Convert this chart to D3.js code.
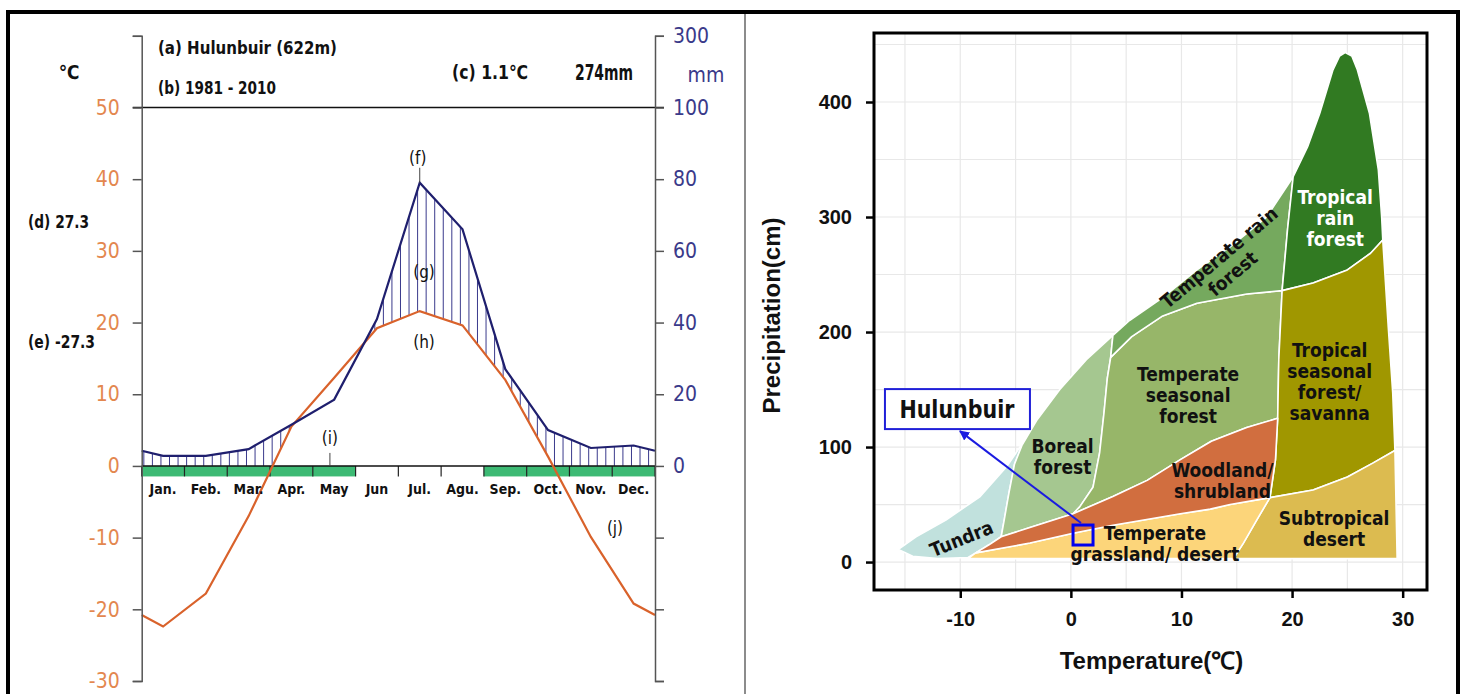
<!DOCTYPE html>
<html lang="en">
<head>
<meta charset="UTF-8">
<title>Hulunbuir climate diagram and Whittaker biomes</title>
<script src="https://d3js.org/d3.v7.min.js"></script>
<style>
  body { margin: 0; background: #fff; }
  svg { display: block; }
</style>
</head>
<body>
<svg id="chart" width="1463" height="694"></svg>
<script>
const NARROW = "'Liberation Sans Narrow', 'Arial Narrow', 'DejaVu Sans Condensed', sans-serif";
const SANS = "'Liberation Sans', Arial, sans-serif";

// ---- climate diagram data (Hulunbuir, 1981-2010) ----
const months = ["Jan.", "Feb.", "Mar.", "Apr.", "May", "Jun", "Jul.", "Agu.", "Sep.", "Oct.", "Nov.", "Dec."];
const temperature = [-22.4, -17.8, -7.0, 5.5, 12.3, 19.2, 21.6, 19.6, 12.0, 1.3, -9.9, -19.2];
const precipitation = [2.8, 2.8, 4.7, 11.5, 18.5, 41, 79, 66, 27, 10, 5, 5.7];
const frostMonths = [1, 1, 1, 1, 1, 0, 0, 0, 1, 1, 1, 1];
const tempTicks = [60, 50, 40, 30, 20, 10, 0, -10, -20, -30];
const precTicks = [300, 100, 80, 60, 40, 20, 0, -20, -40, -60];

// ---- Whittaker biome data (temperature C, precipitation cm) ----
const biomeNames = ["Tundra", "Boreal forest", "Temperate seasonal forest", "Temperate rain forest",
  "Tropical rain forest", "Tropical seasonal forest/savanna", "Subtropical desert",
  "Temperate grassland/desert", "Woodland/shrubland"];
const biomeColors = ["#C1E1DD", "#A5C790", "#97B669", "#75A95E", "#317A22", "#A09700", "#DCBB50", "#FCD57A", "#D16E3F"];
const tundra = [[-15.6, 11], [-14, 22], [-11.3, 36.5], [-8.2, 57], [-5.8, 83], [-4.6, 100], [-4.4, 102],
  [-5.1, 85], [-5.6, 60], [-6.0, 38], [-6.3, 22], [-7.4, 15], [-8.6, 8], [-9.3, 4], [-12, 3], [-14.3, 5]];
const boreal = [[-6.3, 22], [-6.0, 38], [-5.6, 60], [-5.1, 85], [-4.4, 102], [-3.1, 123], [-1, 150], [1.4, 176],
  [3.8, 197], [3.6, 178], [3.3, 160], [3.0, 130], [2.6, 95], [2.0, 65], [0.8, 48], [0.2, 42], [-3.7, 30]];
const tempSeasonal = [[3.6, 178], [5.5, 196], [8.3, 214], [11.4, 225], [15.9, 233], [19.1, 236], [18.8, 176],
  [18.7, 125], [15.9, 117], [12.7, 105], [9.9, 89], [6.9, 71], [3.8, 57], [0.2, 42], [0.8, 48], [2.0, 65],
  [2.6, 95], [3.0, 130], [3.3, 160]];
const tempRain = [[3.6, 178], [3.8, 197], [5.3, 210], [8.3, 230], [11.4, 254], [14.4, 274], [17.7, 300],
  [20.1, 335], [19.6, 290], [19.1, 236], [15.9, 233], [11.4, 225], [8.3, 214], [5.5, 196]];
const tropRain = [[19.1, 236], [19.6, 290], [20.1, 335], [21.4, 361], [22.5, 390], [23.7, 428], [24.3, 440],
  [24.8, 443], [25.4, 440], [25.9, 428], [27, 390], [27.8, 341], [28.1, 300], [28.2, 280], [27.1, 268.5],
  [25, 254], [21.9, 242.6]];
const tropSeasonal = [[19.1, 236], [21.9, 242.6], [25, 254], [27.1, 268.5], [28.2, 280], [28.7, 204],
  [29.1, 147], [29.3, 97], [27.3, 86], [25, 74], [21.9, 62.6], [18.0, 56], [18.5, 89], [18.7, 125], [18.8, 176]];
const subDesert = [[18.0, 56], [21.9, 62.6], [25, 74], [27.3, 86], [29.3, 97], [29.5, 3], [14.7, 3],
  [15.6, 16.5], [16.8, 36.5]];
const grassland = [[-9.3, 3], [-8.6, 8], [-3.7, 16.5], [0.2, 25], [3.8, 32], [9.9, 42], [12.6, 46], [14.4, 50],
  [18.0, 56], [16.8, 36.5], [15.6, 16.5], [14.7, 3]];
const woodland = [[-8.6, 8], [-7.4, 15], [-6.3, 22], [-3.7, 30], [0.2, 42], [3.8, 57], [6.9, 71], [9.9, 89],
  [12.7, 105], [15.9, 117], [18.7, 125], [18.5, 89], [18.0, 56], [14.4, 50], [12.6, 46], [9.9, 42], [3.8, 32],
  [0.2, 25], [-3.7, 16.5]];
const biomePolys = [tundra, boreal, tempSeasonal, tempRain, tropRain, tropSeasonal, subDesert, grassland, woodland];

const biomeLabels = [
  {lines: ["Tropical", "rain", "forest"], t: 23.9, p: 299, rot: 0, fill: "#fff"},
  {lines: ["Temperate rain", "forest"], t: 14.0, p: 258, rot: -40, fill: "#111"},
  {lines: ["Temperate", "seasonal", "forest"], t: 10.6, p: 145, rot: 0, fill: "#111"},
  {lines: ["Tropical", "seasonal", "forest/", "savanna"], t: 23.4, p: 157, rot: 0, fill: "#111"},
  {lines: ["Boreal", "forest"], t: -0.75, p: 92, rot: 0, fill: "#111"},
  {lines: ["Woodland/", "shrubland"], t: 13.7, p: 71, rot: 0, fill: "#111"},
  {lines: ["Subtropical", "desert"], t: 23.8, p: 29, rot: 0, fill: "#111"},
  {lines: ["Temperate", "grassland/ desert"], t: 7.6, p: 16.5, rot: 0, fill: "#111"},
  {lines: ["Tundra"], t: -9.9, p: 20.6, rot: -22, fill: "#111"}
];
const site = {name: "Hulunbuir", t: 1.1, p: 23.5, labelT: -10.3, labelP: 133};
const xTicksB = [-10, 0, 10, 20, 30];
const yTicksB = [0, 100, 200, 300, 400];

const svg = d3.select("#chart");

// outer frame and divider
svg.append("rect").attr("x", 8).attr("y", 12).attr("width", 1450).attr("height", 700)
  .attr("fill", "none").attr("stroke", "#000").attr("stroke-width", 4);
svg.append("line").attr("x1", 745).attr("x2", 745).attr("y1", 14).attr("y2", 694)
  .attr("stroke", "#666").attr("stroke-width", 1.5);

// ================= left: climate diagram =================
const L = svg.append("g");
const xM = d3.scaleLinear().domain([0, 12]).range([141.7, 655]);
const yT = d3.scaleLinear().domain([-30, 60]).range([681, 35.8]);
const yP = d3.scaleLinear().domain([-60, 100, 300]).range([yT(-30), yT(50), yT(60)]);

const edgeT = (temperature[11] + temperature[0]) / 2;
const edgeP = (precipitation[11] + precipitation[0]) / 2;
const tSeries = [[0, edgeT], ...temperature.map((v, i) => [i + 0.5, v]), [12, edgeT]];
const pSeries = [[0, edgeP], ...precipitation.map((v, i) => [i + 0.5, v]), [12, edgeP]];

function interp(series, x) {
  for (let i = 1; i < series.length; i++) {
    if (x <= series[i][0]) {
      const a = series[i - 1], b = series[i];
      return a[1] + (b[1] - a[1]) * (x - a[0]) / (b[0] - a[0]);
    }
  }
  return series[series.length - 1][1];
}

// humid-period hatching
const hatch = d3.range(0.05, 12, 0.2).map(x => {
  const t = interp(tSeries, x), p = interp(pSeries, x);
  return {x, y1: yP(p), y2: yT(Math.max(t, 0))};
}).filter(d => d.y1 < d.y2 - 0.5);
L.append("g").selectAll("line").data(hatch).join("line")
  .attr("x1", d => xM(d.x)).attr("x2", d => xM(d.x))
  .attr("y1", d => d.y1).attr("y2", d => d.y2)
  .attr("stroke", "#3a3a8c").attr("stroke-width", 1);

// frost bars and month separators
L.append("g").selectAll("rect").data(frostMonths.map((f, i) => ({f, i})).filter(d => d.f))
  .join("rect")
  .attr("x", d => xM(d.i)).attr("width", d => xM(d.i + 1) - xM(d.i))
  .attr("y", yT(0)).attr("height", 10.5)
  .attr("fill", "#3dba74");
L.append("g").selectAll("line").data(d3.range(13)).join("line")
  .attr("x1", d => xM(d)).attr("x2", d => xM(d))
  .attr("y1", yT(0)).attr("y2", yT(0) + 10.5)
  .attr("stroke", "#222").attr("stroke-width", 1.2);

// reference lines
L.append("line").attr("x1", xM(0) - 9).attr("x2", xM(12) + 9).attr("y1", yT(50)).attr("y2", yT(50))
  .attr("stroke", "#111").attr("stroke-width", 1.5);
L.append("line").attr("x1", xM(0)).attr("x2", xM(12)).attr("y1", yT(0)).attr("y2", yT(0))
  .attr("stroke", "#111").attr("stroke-width", 1.5);

// curves
L.append("path").datum(tSeries)
  .attr("d", d3.line().x(d => xM(d[0])).y(d => yT(d[1])))
  .attr("fill", "none").attr("stroke", "#d9622b").attr("stroke-width", 2.2);
L.append("path").datum(pSeries)
  .attr("d", d3.line().x(d => xM(d[0])).y(d => yP(d[1])))
  .attr("fill", "none").attr("stroke", "#1f1f6e").attr("stroke-width", 2.2);

// axes
const axL = L.append("g").attr("transform", `translate(${xM(0)},0)`)
  .call(d3.axisLeft(yT).tickValues(tempTicks).tickSize(9).tickSizeOuter(9).tickPadding(13)
    .tickFormat(d => d === 60 ? "" : `${d}`));
axL.attr("font-family", NARROW).attr("font-size", 21);
axL.selectAll("path, line").attr("stroke", "#555").attr("stroke-width", 1.5);
axL.selectAll("text").attr("fill", "#e3874f");

const axR = L.append("g").attr("transform", `translate(${xM(12)},0)`)
  .call(d3.axisRight(yP).tickValues(precTicks).tickSize(9).tickSizeOuter(9).tickPadding(9)
    .tickFormat(d => d < 0 ? "" : `${d}`));
axR.attr("font-family", NARROW).attr("font-size", 21);
axR.selectAll("path, line").attr("stroke", "#555").attr("stroke-width", 1.5);
axR.selectAll("text").attr("fill", "#3a3a8a");

// month labels
L.append("g").selectAll("text").data(months).join("text")
  .attr("x", (d, i) => xM(i + 0.5)).attr("y", yT(0) + 28)
  .attr("text-anchor", "middle").attr("font-family", NARROW).attr("font-weight", "bold")
  .attr("font-size", 14).attr("fill", "#111").text(d => d);

// texts
function txt(g, x, y, s, size, opts = {}) {
  const t = g.append("text").attr("x", x).attr("y", y).text(s)
    .attr("font-family", opts.family || NARROW).attr("font-size", size)
    .attr("font-weight", opts.weight || "bold").attr("fill", opts.fill || "#111")
    .attr("text-anchor", opts.anchor || "start");
  if (opts.len) t.attr("textLength", opts.len).attr("lengthAdjust", "spacingAndGlyphs");
  return t;
}
txt(L, 69, 79, "℃", 19, {anchor: "middle"});
txt(L, 706, 82, "mm", 21, {anchor: "middle", weight: "normal", fill: "#3a3a8a"});
txt(L, 158, 54, "(a) Hulunbuir (622m)", 17, {len: 179});
txt(L, 158, 94, "(b) 1981 - 2010", 17, {len: 118});
txt(L, 452, 79, "(c) 1.1℃", 19, {len: 76});
txt(L, 575, 80, "274mm", 21, {len: 58});
txt(L, 28, 228, "(d) 27.3", 17, {len: 61});
txt(L, 28, 348, "(e) -27.3", 17, {len: 67});

const peakX = xM(6.5), peakY = yP(precipitation[6]);
L.append("line").attr("x1", peakX).attr("x2", peakX).attr("y1", peakY).attr("y2", peakY - 15)
  .attr("stroke", "#444").attr("stroke-width", 1);
txt(L, peakX - 2, peakY - 19, "(f)", 17, {anchor: "middle", weight: "normal"});
txt(L, 424, 278, "(g)", 17, {anchor: "middle", weight: "normal"});
txt(L, 424, 348, "(h)", 17, {anchor: "middle", weight: "normal"});
const mayX = xM(4.4);
L.append("line").attr("x1", mayX).attr("x2", mayX).attr("y1", yT(0)).attr("y2", yT(0) - 13)
  .attr("stroke", "#444").attr("stroke-width", 1);
txt(L, mayX, 444, "(i)", 17, {anchor: "middle", weight: "normal"});
txt(L, 615, 534, "(j)", 17, {anchor: "middle", weight: "normal"});

// ================= right: Whittaker biomes =================
const R = svg.append("g");
const xB = d3.scaleLinear().domain([-17.8, 32.2]).range([874, 1427]);
const yB = d3.scaleLinear().domain([-24.3, 460]).range([590, 33]);

// grid
R.append("g").selectAll("line").data(d3.range(-15, 31, 5)).join("line")
  .attr("x1", d => xB(d)).attr("x2", d => xB(d)).attr("y1", yB.range()[1]).attr("y2", yB.range()[0])
  .attr("stroke", "#e8e8e8").attr("stroke-width", 1.2);
R.append("g").selectAll("line").data(d3.range(0, 451, 50)).join("line")
  .attr("y1", d => yB(d)).attr("y2", d => yB(d)).attr("x1", xB.range()[0]).attr("x2", xB.range()[1])
  .attr("stroke", "#e8e8e8").attr("stroke-width", 1.2);

// biome polygons
const poly = d3.line().x(d => xB(d[0])).y(d => yB(d[1]));
R.append("g").selectAll("path").data(biomePolys).join("path")
  .attr("d", d => poly(d) + "Z")
  .attr("fill", (d, i) => biomeColors[i])
  .attr("stroke", "#fff").attr("stroke-width", 1.6).attr("stroke-linejoin", "round");

// biome labels
const lab = R.append("g").selectAll("text").data(biomeLabels).join("text")
  .attr("transform", d => `translate(${xB(d.t)},${yB(d.p)}) rotate(${d.rot})`)
  .attr("text-anchor", "middle").attr("font-family", NARROW).attr("font-weight", "bold")
  .attr("font-size", 19).attr("fill", d => d.fill);
lab.selectAll("tspan").data(d => d.lines.map((s, i) => ({s, i, n: d.lines.length}))).join("tspan")
  .attr("x", 0).attr("y", d => (d.i - (d.n - 1) / 2) * 21 + 7).text(d => d.s);

// frame
R.append("rect").attr("x", xB.range()[0]).attr("y", yB.range()[1])
  .attr("width", xB.range()[1] - xB.range()[0]).attr("height", yB.range()[0] - yB.range()[1])
  .attr("fill", "none").attr("stroke", "#000").attr("stroke-width", 3);

// axes
const ayB = R.append("g").attr("transform", `translate(${xB.range()[0]},0)`)
  .call(d3.axisLeft(yB).tickValues(yTicksB).tickSize(8).tickPadding(14).tickFormat(d => `${d}`));
const axB = R.append("g").attr("transform", `translate(0,${yB.range()[0]})`)
  .call(d3.axisBottom(xB).tickValues(xTicksB).tickSize(8).tickPadding(14).tickFormat(d => `${d}`));
[ayB, axB].forEach(a => {
  a.select(".domain").remove();
  a.attr("font-family", SANS).attr("font-size", 20).attr("font-weight", "bold");
  a.selectAll("line").attr("stroke", "#000").attr("stroke-width", 2.5);
  a.selectAll("text").attr("fill", "#111");
});

R.append("text").attr("transform", `translate(780,${(yB.range()[0] + yB.range()[1]) / 2 + 4}) rotate(-90)`)
  .attr("text-anchor", "middle").attr("font-family", SANS).attr("font-weight", "bold")
  .attr("font-size", 24).attr("fill", "#111").text("Precipitation(cm)");
R.append("text").attr("x", (xB.range()[0] + xB.range()[1]) / 2 + 1).attr("y", 669)
  .attr("text-anchor", "middle").attr("font-family", SANS).attr("font-weight", "bold")
  .attr("font-size", 24).attr("fill", "#111").text("Temperature(℃)");

// site marker, label box and arrow
const defs = svg.append("defs");
defs.append("marker").attr("id", "arrow").attr("viewBox", "0 0 10 10").attr("refX", 9).attr("refY", 5)
  .attr("markerWidth", 5).attr("markerHeight", 5).attr("orient", "auto")
  .append("path").attr("d", "M0,0L10,5L0,10Z").attr("fill", "#1a1ae0");

const sx = xB(site.t), sy = yB(site.p);
const bx = xB(site.labelT), by = yB(site.labelP);
R.append("line").attr("x1", sx - 2).attr("y1", sy - 12).attr("x2", bx + 3).attr("y2", by + 22)
  .attr("stroke", "#1a1ae0").attr("stroke-width", 2).attr("marker-end", "url(#arrow)");
R.append("rect").attr("x", sx - 10).attr("y", sy - 10).attr("width", 20).attr("height", 20)
  .attr("fill", "none").attr("stroke", "#0000ee").attr("stroke-width", 3);
R.append("rect").attr("x", bx - 72).attr("y", by - 20).attr("width", 145).attr("height", 40)
  .attr("fill", "#fff").attr("stroke", "#2020d8").attr("stroke-width", 2);
R.append("text").attr("x", bx).attr("y", by + 9).attr("text-anchor", "middle")
  .attr("font-family", NARROW).attr("font-weight", "bold").attr("font-size", 25)
  .attr("textLength", 115).attr("lengthAdjust", "spacingAndGlyphs")
  .attr("fill", "#111").text(site.name);
</script>
</body>
</html>
